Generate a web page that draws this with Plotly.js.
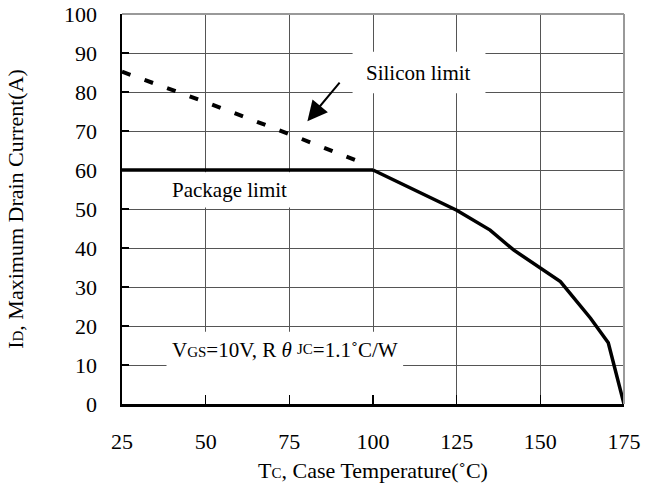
<!DOCTYPE html>
<html>
<head>
<meta charset="utf-8">
<script src="https://cdn.plot.ly/plotly-3.0.1.min.js"></script>
<style>html,body{margin:0;padding:0;background:#fff;}#chart{width:656px;height:490px;}</style>
</head>
<body>
<div id="chart"></div>
<script>
// Data
var packageX = [25, 100];
var packageY = [60, 60];
var siliconX = [25, 50, 75, 97];
var siliconY = [85.2, 77.4, 69.2, 61.8];
var derateX = [100, 125, 135, 142, 156, 165, 170.3, 175];
var derateY = [60, 49.7, 44.6, 39.5, 31.4, 22, 15.7, 0];
var xTicks = [25, 50, 75, 100, 125, 150, 175];
var yTicks = [0, 10, 20, 30, 40, 50, 60, 70, 80, 90, 100];

var FONT = "Liberation Serif, Times New Roman, serif";

var traces = [
  {x: packageX, y: packageY, mode: 'lines', line: {color: '#000', width: 3.5}, hoverinfo: 'skip'},
  {x: derateX, y: derateY, mode: 'lines', line: {color: '#000', width: 3.5}, hoverinfo: 'skip'},
  {x: siliconX, y: siliconY, mode: 'lines', line: {color: '#000', width: 4, dash: '9px,15px'}, hoverinfo: 'skip'}
];

var layout = {
  width: 656, height: 490,
  margin: {l: 122, r: 32, t: 14, b: 86},
  paper_bgcolor: '#fff', plot_bgcolor: '#fff',
  showlegend: false,
  font: {family: FONT, size: 21, color: '#000'},
  xaxis: {
    range: [25, 175], tickvals: xTicks, ticktext: xTicks.map(String),
    showgrid: true, gridcolor: '#555', gridwidth: 1,
    zeroline: false, showline: true, linecolor: '#000', linewidth: 2.5,
    ticks: 'inside', ticklen: 9, tickwidth: 1.5, tickcolor: '#000',
    ticklabelstandoff: 16,
    tickfont: {family: FONT, size: 22, color: '#000'},
    title: {text: 'T<span style="font-size:15px">C</span>, Case Temperature(˚C)', font: {family: FONT, size: 22, color: '#000'}, standoff: 10},
    fixedrange: true
  },
  yaxis: {
    range: [0, 100], tickvals: yTicks, ticktext: yTicks.map(String),
    showgrid: true, gridcolor: '#555', gridwidth: 1,
    zeroline: false, showline: true, linecolor: '#000', linewidth: 2.5,
    ticks: 'inside', ticklen: 7, tickwidth: 1.5, tickcolor: '#000',
    ticklabelstandoff: 18,
    tickfont: {family: FONT, size: 22, color: '#000'},
    title: {text: 'I<span style="font-size:15px">D</span>, Maximum Drain Current(A)', font: {family: FONT, size: 22, color: '#000'}, standoff: 35},
    fixedrange: true
  },
  shapes: [
    {type: 'rect', xref: 'x', yref: 'y', x0: 93.9, x1: 133.6, y0: 79.7, y1: 90.3, fillcolor: '#fff', line: {width: 0}, layer: 'between'},
    {type: 'rect', xref: 'x', yref: 'y', x0: 36, x1: 80, y0: 50.4, y1: 59.4, fillcolor: '#fff', line: {width: 0}, layer: 'between'},
    {type: 'rect', xref: 'x', yref: 'y', x0: 38.3, x1: 109, y0: 0.3, y1: 18.5, fillcolor: '#fff', line: {width: 0}, layer: 'between'},
    {type: 'line', xref: 'paper', yref: 'paper', x0: 1, x1: 1, y0: 0, y1: 1, line: {color: '#999', width: 2}},
    {type: 'line', xref: 'paper', yref: 'paper', x0: 0, x1: 1, y0: 1, y1: 1, line: {color: '#999', width: 2}}
  ],
  annotations: [
    {x: 113.7, y: 85, xref: 'x', yref: 'y', text: 'Silicon limit', showarrow: false, font: {family: FONT, size: 21, color: '#000'}},
    {x: 57, y: 55, xref: 'x', yref: 'y', text: 'Package limit', showarrow: false, font: {family: FONT, size: 21, color: '#000'}},
    {x: 73.8, y: 13.8, xref: 'x', yref: 'y', text: 'V<span style="font-size:15px">GS</span>=10V, R <i>θ</i> <span style="font-size:15px;baseline-shift:3px">JC</span>=1.1˚C/W', showarrow: false, font: {family: FONT, size: 21, color: '#000'}},
    {x: 80.4, y: 72.5, xref: 'x', yref: 'y', ax: 90.4, ay: 82.8, axref: 'x', ayref: 'y', text: '', showarrow: true, arrowhead: 2, arrowsize: 2, arrowwidth: 2, arrowcolor: '#000'}
  ]
};

Plotly.newPlot('chart', traces, layout, {displayModeBar: false, staticPlot: true});
</script>
</body>
</html>
